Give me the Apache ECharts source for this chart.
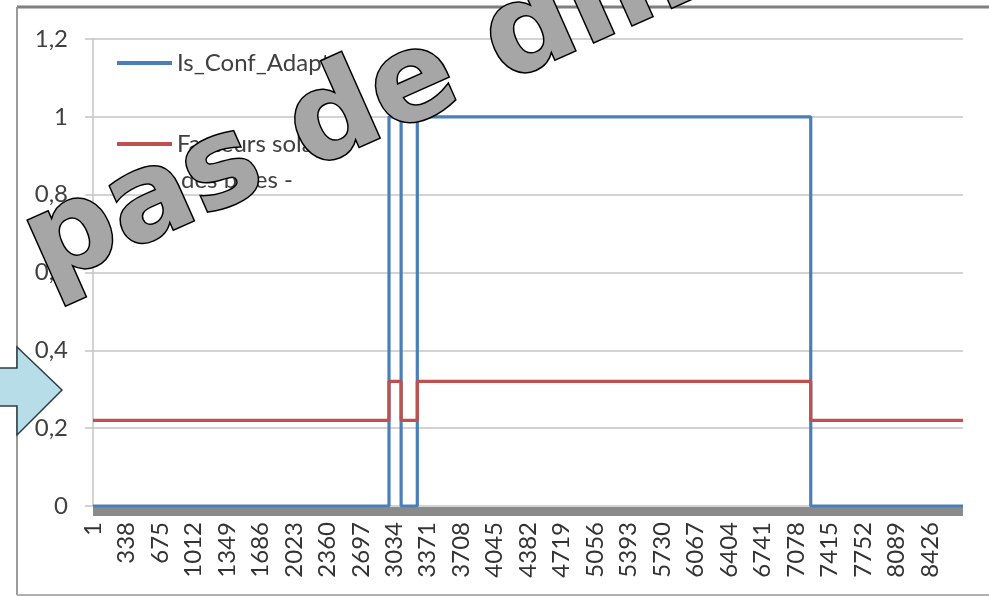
<!DOCTYPE html>
<html>
<head>
<meta charset="utf-8">
<script src="https://cdn.jsdelivr.net/npm/echarts@6/dist/echarts.min.js"></script>
<style>
html,body{margin:0;padding:0;background:#fff;}
#chart{width:989px;height:597px;}
</style>
</head>
<body>
<div id="chart"></div>
<script>
// ---- data ----
const hourTicks = [1, 338, 675, 1012, 1349, 1686, 2023, 2360, 2697, 3034, 3371, 3708, 4045, 4382, 4719, 5056, 5393, 5730, 6067, 6404, 6741, 7078, 7415, 7752, 8089, 8426];
const changeHours = [1, 2981, 3103, 3266, 7227, 8760];
const isConfValues = [0, 1, 0, 1, 0, 0];
const facteursValues = [0.22, 0.32, 0.22, 0.32, 0.22, 0.22];
const yTicks = [0, 0.2, 0.4, 0.6, 0.8, 1, 1.2];
const seriesNames = ['Is_Conf_Adapt', 'Facteurs solaires des baies -'];

const pairs = (xs, ys) => xs.map((x, i) => [x, ys[i]]);

const chart = echarts.init(document.getElementById('chart'), null, {renderer: 'canvas'});
const FONT = 'Lato, "Liberation Sans", sans-serif';
const deg = Math.PI / 180;

const option = {
  animation: false,
  backgroundColor: '#ffffff',
  grid: {left: 93, right: 26, top: 39, bottom: 91},
  legend: [
    {
      data: [seriesNames[0]], left: 117, top: 50, orient: 'vertical',
      icon: 'rect', itemWidth: 55, itemHeight: 4, padding: 0,
      textStyle: {fontFamily: FONT, fontSize: 24, color: '#404040', lineHeight: 26}
    },
    {
      data: [seriesNames[1]], left: 117, top: 131, orient: 'vertical',
      icon: 'rect', itemWidth: 55, itemHeight: 4, padding: 0,
      formatter: () => 'Facteurs solaires',
      textStyle: {fontFamily: FONT, fontSize: 24, color: '#404040', lineHeight: 26}
    }
  ],
  xAxis: {
    type: 'value', min: 1, max: 8760, offset: 5,
    axisLine: {show: true, onZero: false, lineStyle: {color: '#8a8a8a', width: 9, cap: 'butt'}},
    axisTick: {show: false},
    splitLine: {show: false},
    axisLabel: {
      customValues: hourTicks, rotate: 90, margin: 11,
      fontFamily: FONT, fontSize: 24, color: '#333333',
      formatter: v => String(v)
    }
  },
  yAxis: {
    type: 'value', min: 0, max: 1.2, interval: 0.2,
    axisLine: {show: true, lineStyle: {color: '#c4c4c4', width: 1.5}},
    axisTick: {show: true, length: 8, lineStyle: {color: '#c4c4c4', width: 1.5}},
    splitLine: {show: true, lineStyle: {color: '#c4c4c4', width: 1.5}},
    axisLabel: {
      margin: 25, fontFamily: FONT, fontSize: 24, color: '#404040',
      formatter: v => String(Math.round(v * 10) / 10).replace('.', ',')
    }
  },
  series: [
    {
      name: seriesNames[0], type: 'line', step: 'end', symbol: 'none',
      data: pairs(changeHours, isConfValues),
      color: '#4a7ebb', lineStyle: {color: '#4a7ebb', width: 3.2}, z: 3
    },
    {
      name: seriesNames[1], type: 'line', step: 'end', symbol: 'none',
      data: pairs(changeHours, facteursValues),
      color: '#c0504d', lineStyle: {color: '#c0504d', width: 3.2}, z: 4
    }
  ],
  graphic: [
    // chart frame
    {type: 'line', z: 1, shape: {x1: 17, y1: 7, x2: 989, y2: 7}, style: {stroke: '#7f7f7f', lineWidth: 3}},
    {type: 'line', z: 1, shape: {x1: 17, y1: 7, x2: 17, y2: 595}, style: {stroke: '#9a9a9a', lineWidth: 2}},
    {type: 'line', z: 1, shape: {x1: 17, y1: 595, x2: 989, y2: 595}, style: {stroke: '#b0b0b0', lineWidth: 2}},
    // wrapped second line of the legend
    {type: 'text', z: 10, x: 181, y: 180,
     style: {text: 'des baies -', font: '24px ' + FONT, fill: '#404040',
             textAlign: 'left', textVerticalAlign: 'middle', align: 'left', verticalAlign: 'middle'}},
    // arrow
    {type: 'polygon', z: 50,
     shape: {points: [[-10, 368], [17, 368], [17, 347], [62, 390], [17, 435], [17, 406], [-10, 406]]},
     style: {fill: '#b7dde8', stroke: '#2b3f46', lineWidth: 1.5}},
    // overlay text
    {type: 'text', z: 100, x: -82, y: 308, rotation: 24 * deg,
     style: {text: 'à pas de dimensionnement', font: 'bold 123px "DejaVu Sans"',
             fill: '#a6a6a6', stroke: '#000000', lineWidth: 3,
             textAlign: 'left', textVerticalAlign: 'middle', align: 'left', verticalAlign: 'middle',
             shadowColor: 'rgba(0,0,0,0.45)', shadowBlur: 5, shadowOffsetX: 3, shadowOffsetY: 3}}
  ]
};
chart.setOption(option);
</script>
</body>
</html>
